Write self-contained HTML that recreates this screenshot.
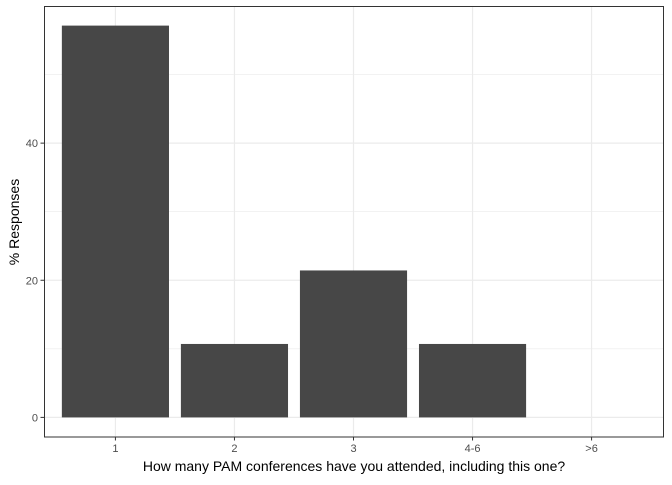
<!DOCTYPE html>
<html><head><meta charset="utf-8">
<style>
body{margin:0;background:#fff;}
svg text{font-family:"Liberation Sans",Arial,sans-serif;}
</style></head>
<body>
<svg id="chart" width="672" height="480" xmlns="http://www.w3.org/2000/svg">
<rect x="0" y="0" width="672" height="480" fill="#fff"/>
<g id="grid"></g>
<g id="bars"></g>
<g id="axes"></g>
<rect x="44.5" y="6.5" width="619" height="430.5" fill="none" stroke="#333" stroke-width="1"/>
<text x="354" y="471" text-anchor="middle" font-size="14" fill="#000">How many PAM conferences have you attended, including this one?</text>
<text transform="translate(19,222) rotate(-90)" text-anchor="middle" font-size="14" fill="#000">% Responses</text>
</svg>
<script>
const categories = ["1","2","3","4-6",">6"];
const values = [57.14, 10.71, 21.43, 10.71, 0];
const yTicks = [0, 20, 40];
const yMinor = [10, 30, 50];

const ns = "http://www.w3.org/2000/svg";
const panelL = 44, panelR = 663, panelT = 6, panelB = 437;
const yMin = -2.86, yMax = 60.0;
function y(v){ return panelB - (v - yMin) / (yMax - yMin) * (panelB - panelT); }
const step = (panelR - panelL) / (categories.length + 0.2);
function x(i){ return panelL + step * (0.6 + i); }
function mk(tag, attrs, parent){
  const e = document.createElementNS(ns, tag);
  for (const k in attrs) e.setAttribute(k, attrs[k]);
  parent.appendChild(e); return e;
}
const grid = document.getElementById('grid'), bars = document.getElementById('bars'), axes = document.getElementById('axes');
yMinor.forEach(v => {
  const l = mk('line', {x1: panelL, x2: panelR, y1: y(v), y2: y(v), stroke: '#ebebeb', 'stroke-width': 0.6}, grid);
  
  
});
yTicks.forEach(v => {
  const l = mk('line', {x1: panelL, x2: panelR, y1: y(v), y2: y(v), stroke: '#ebebeb', 'stroke-width': 1.2}, grid);
  
  
  const t = mk('line', {x1: panelL - 3.5, x2: panelL, y1: y(v), y2: y(v), stroke: '#333', 'stroke-width': 1}, axes);
  
  
  const tx = mk('text', {x: panelL - 6, y: y(v) + 4, 'text-anchor': 'end', 'font-size': 11, fill: '#4d4d4d'}, axes);
  tx.textContent = v;
  
  
});
categories.forEach((c, i) => {
  const l = mk('line', {x1: x(i), x2: x(i), y1: panelT, y2: panelB, stroke: '#ebebeb', 'stroke-width': 1.2}, grid);
  
  
  const w = step * 0.9;
  const b = mk('rect', {x: x(i) - w / 2, y: y(values[i]), width: w, height: Math.max(0, y(0) - y(values[i])), fill: '#474747'}, bars);
  
  
  const t = mk('line', {x1: x(i), x2: x(i), y1: panelB, y2: panelB + 3.5, stroke: '#333', 'stroke-width': 1}, axes);
  
  
  const tx = mk('text', {x: x(i), y: panelB + 15, 'text-anchor': 'middle', 'font-size': 11, fill: '#4d4d4d'}, axes);
  tx.textContent = c;
  
  
});
</script>
</body></html>
